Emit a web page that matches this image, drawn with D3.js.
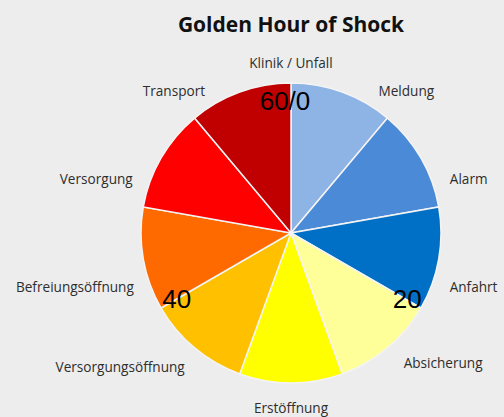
<!DOCTYPE html>
<html><head><meta charset="utf-8">
<script src="https://cdn.jsdelivr.net/npm/d3@7"></script>
<style>
html,body{margin:0;padding:0;background:#ededed;}
svg{display:block;}
</style></head>
<body>
<svg id="chart" width="504" height="417"></svg>
<script>
// ---- data ----
const title = "Golden Hour of Shock";
const phases = ["Meldung","Alarm","Anfahrt","Absicherung","Erstöffnung","Versorgungsöffnung","Befreiungsöffnung","Versorgung","Transport"];
const durations = [1,1,1,1,1,1,1,1,1];
const phaseColors = ["#8eb4e6","#4a8ad6","#0070c6","#ffff99","#ffff00","#ffc000","#ff6a00","#ff0000","#c00000"];
const axisLabels = ["Klinik / Unfall","Meldung","Alarm","Anfahrt","Absicherung","Erstöffnung","Versorgungsöffnung","Befreiungsöffnung","Versorgung","Transport"];
const minuteTicks = [0,20,40];
const minuteTickLabels = ["60/0","20","40"];

// ---- layout ----
const W = 504, H = 417;
const cx = 291, cy = 233, r = 150;
const labelR = 168;
const labelNudge = {"Absicherung":[30,-11],"Versorgungsöffnung":[-34,-7],"Klinik / Unfall":[0,5]};

const svg = d3.select("#chart");
svg.append("rect").attr("width",W).attr("height",H).attr("fill","#ededed");

svg.append("text").attr("x",291).attr("y",32).attr("text-anchor","middle")
  .attr("font-family","'Open Sans', sans-serif").attr("font-weight","bold")
  .attr("font-size",21).attr("fill","#111").text(title);

const g = svg.append("g").attr("transform",`translate(${cx},${cy})`);
const pie = d3.pie().sort(null).value(d=>d)(durations);
const arc = d3.arc().innerRadius(0).outerRadius(r);
g.selectAll("path.slice").data(pie).join("path").attr("class","slice")
  .attr("d",arc).attr("fill",(d,i)=>phaseColors[i])
  .attr("stroke","#f4f4f4").attr("stroke-width",1.5);

// category labels (radar-like axes)
const ang = d3.scaleLinear().domain([0,axisLabels.length]).range([0,2*Math.PI]);
const lblG = svg.append("g");
axisLabels.forEach((t,i)=>{
  const a = ang(i);
  const s = Math.sin(a), c = Math.cos(a);
  const txt = lblG.append("text").attr("font-family","'Open Sans', sans-serif")
    .attr("font-size",13.6).attr("fill","#2e2e2e").text(t);
  const bb = txt.node().getBBox();
  const w = bb.width, h = 14;
  let x = cx + labelR*s + (w/2)*s;
  let y = cy - labelR*c - (h/2)*c;
  const n = labelNudge[t] || [0,0];
  x += n[0]; y += n[1];
  txt.attr("x",x).attr("y",y).attr("text-anchor","middle").attr("dy","0.35em");
});

// minute ticks
const minScale = d3.scaleLinear().domain([0,60]).range([0,2*Math.PI]);
const tickR = 132;
minuteTicks.forEach((m,i)=>{
  const a = minScale(m);
  svg.append("text")
    .attr("x", cx + tickR*Math.sin(a) + (i===0?-6:0) + (i===1?2:0))
    .attr("y", cy - tickR*Math.cos(a))
    .attr("text-anchor","middle").attr("dy","0.35em")
    .attr("font-family","'Liberation Sans', Arial, sans-serif")
    .attr("font-size",26).attr("fill","#000").text(minuteTickLabels[i]);
});
</script>
</body></html>
